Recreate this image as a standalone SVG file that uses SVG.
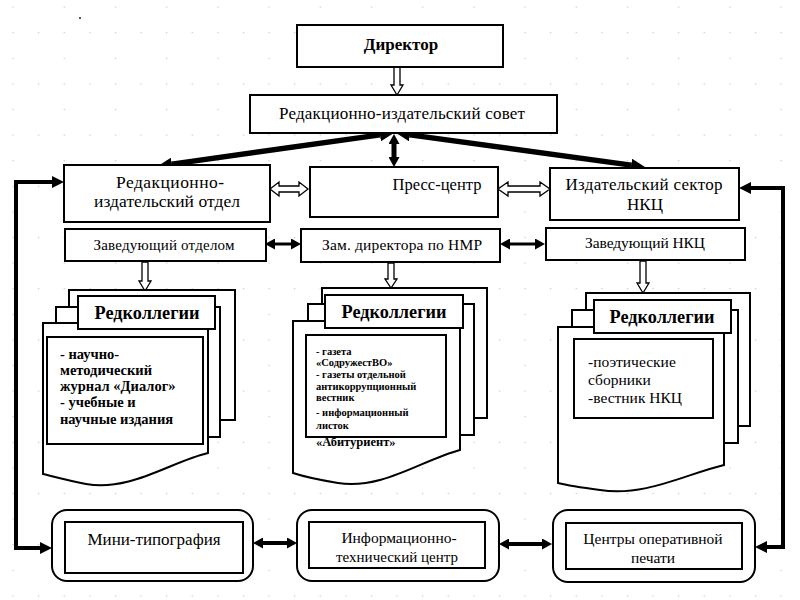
<svg xmlns="http://www.w3.org/2000/svg" width="800" height="600" viewBox="0 0 800 600">
<defs>
<style>
.b{fill:#fff;stroke:#000;stroke-width:2}
.t{font-family:'Liberation Serif','Times New Roman',serif;fill:#000}
.m{text-anchor:middle}
.h{fill:#fff;stroke:#000;stroke-width:1.3}
.ln{fill:none;stroke:#000}
</style>
<pattern id="grid" width="51.2" height="51.2" patternUnits="userSpaceOnUse" patternTransform="translate(12.5,6.5)">
<rect x="0" y="0" width="1.2" height="1.2" fill="#c4c4c4"/>
<rect x="0" y="25.6" width="1.2" height="1.2" fill="#c4c4c4"/>
<rect x="25.6" y="25.6" width="1.2" height="1.2" fill="#c4c4c4"/>
</pattern>
<marker id="big" markerUnits="userSpaceOnUse" markerWidth="14" markerHeight="13" refX="0" refY="6.5" orient="auto-start-reverse" viewBox="0 0 14 13">
<path d="M0,0 L14,6.5 L0,13 Z" fill="#000"/>
</marker>
<marker id="sm" markerUnits="userSpaceOnUse" markerWidth="10" markerHeight="11" refX="0" refY="5.5" orient="auto-start-reverse" viewBox="0 0 10 11">
<path d="M0,0 L10,5.5 L0,11 Z" fill="#000"/>
</marker>
<marker id="fb" markerUnits="userSpaceOnUse" markerWidth="12" markerHeight="12" refX="0" refY="6" orient="auto-start-reverse" viewBox="0 0 12 12">
<path d="M0,0 L12,6 L0,12 Z" fill="#000"/>
</marker>
</defs>
<rect width="800" height="600" fill="#fff"/>
<rect width="800" height="600" fill="url(#grid)"/>
<rect x="79" y="17" width="2" height="2" fill="#555"/>

<g id="connectors">
<polygon class="h" points="394,67 400,67 400,85 403,85 397,95 391,85 394,85"/>
<line class="ln" x1="380" y1="134.9" x2="171.9" y2="164.1" stroke-width="5.5" marker-start="url(#big)" marker-end="url(#big)"/>
<line class="ln" x1="410" y1="134.9" x2="631.1" y2="165.1" stroke-width="5.5" marker-start="url(#big)" marker-end="url(#big)"/>
<line class="ln" x1="394" y1="144" x2="394" y2="157" stroke-width="5" marker-start="url(#sm)" marker-end="url(#sm)"/>
<polygon class="h" points="270,189 279,182 279,186 299,186 299,182 308,189 299,196 299,192 279,192 279,196"/>
<polygon class="h" points="498,189 508,182 508,186 540,186 540,182 550,189 540,196 540,192 508,192 508,196"/>
<line class="ln" x1="275" y1="244" x2="291" y2="244" stroke-width="3" marker-start="url(#sm)" marker-end="url(#sm)"/>
<line class="ln" x1="510" y1="244" x2="535" y2="244" stroke-width="3" marker-start="url(#sm)" marker-end="url(#sm)"/>
<polygon class="h" points="142,262 148,262 148,281 151,281 145,291 139,281 142,281"/>
<polygon class="h" points="388,263 394,263 394,279 397,279 391,288 385,279 388,279"/>
<polygon class="h" points="640,261 646,261 646,283 649,283 643,293 637,283 640,283"/>
<path class="ln" d="M52,182 L16,182 L16,548 L40,548" stroke-width="4" marker-start="url(#fb)" marker-end="url(#fb)"/>
<path class="ln" d="M751,188 L783,188 L783,547 L767,547" stroke-width="4" marker-start="url(#fb)" marker-end="url(#fb)"/>
<line class="ln" x1="263" y1="543" x2="287" y2="543" stroke-width="4" marker-start="url(#sm)" marker-end="url(#sm)"/>
<line class="ln" x1="509" y1="544" x2="542" y2="544" stroke-width="4" marker-start="url(#sm)" marker-end="url(#sm)"/>
</g>

<g id="director">
<rect class="b" x="297" y="25" width="206" height="42"/>
<text class="t m" x="401" y="50" font-size="17" font-weight="bold">Директор</text>
</g>
<g id="sovet">
<rect class="b" x="250" y="95" width="307" height="38"/>
<text class="t m" x="402" y="119" font-size="17" textLength="246" lengthAdjust="spacing">Редакционно-издательский совет</text>
</g>
<g id="otdel">
<rect class="b" x="64" y="165" width="206" height="57"/>
<text class="t m" x="170" y="188" font-size="17.5" textLength="108" lengthAdjust="spacing">Редакционно-</text>
<text class="t m" x="167" y="207" font-size="17.5" textLength="146" lengthAdjust="spacing">издательский отдел</text>
</g>
<g id="press">
<rect class="b" x="310" y="167" width="188" height="50"/>
<text class="t m" x="437" y="190" font-size="16.5" textLength="89" lengthAdjust="spacing">Пресс-центр</text>
</g>
<g id="nkc-sector">
<rect class="b" x="550" y="168" width="189" height="52"/>
<text class="t m" x="644" y="190" font-size="17" textLength="157" lengthAdjust="spacing">Издательский сектор</text>
<text class="t m" x="645" y="210" font-size="17">НКЦ</text>
</g>
<g id="zav-otdel">
<rect class="b" x="65" y="229" width="201" height="32"/>
<text class="t m" x="164" y="250" font-size="15" textLength="141" lengthAdjust="spacing">Заведующий отделом</text>
</g>
<g id="zam-dir">
<rect class="b" x="301" y="229" width="199" height="33"/>
<text class="t m" x="402" y="250" font-size="15.5" textLength="160" lengthAdjust="spacing">Зам. директора по НМР</text>
</g>
<g id="zav-nkc">
<rect class="b" x="546" y="228" width="199" height="32"/>
<text class="t m" x="645" y="248" font-size="15.5" textLength="120" lengthAdjust="spacing">Заведующий НКЦ</text>
</g>

<g id="doc-left">
<rect class="b" x="69" y="290" width="166" height="130"/>
<rect class="b" x="56" y="307" width="164" height="130"/>
<path class="b" d="M43,323 H208 V453 C170,462 130,492 86,484 C70,481 55,477 43,474 Z"/>
<rect class="b" x="78" y="296" width="137" height="33"/>
<text class="t m" x="147" y="319" font-size="18" font-weight="bold" textLength="105" lengthAdjust="spacingAndGlyphs">Редколлегии</text>
<rect class="b" x="47" y="337" width="156" height="107"/>
<text class="t" x="60" y="359" font-size="14.5" font-weight="bold">- научно-</text>
<text class="t" x="60" y="375" font-size="14.5" font-weight="bold">методический</text>
<text class="t" x="60" y="391" font-size="14.5" font-weight="bold">журнал «Диалог»</text>
<text class="t" x="60" y="407" font-size="14.5" font-weight="bold">- учебные и</text>
<text class="t" x="60" y="424" font-size="14.5" font-weight="bold">научные издания</text>
</g>

<g id="doc-middle">
<rect class="b" x="322" y="288" width="165" height="130"/>
<rect class="b" x="308" y="304" width="166" height="131"/>
<path class="b" d="M293,321 H460 V450 C422,460 382,490 338,483 C320,480 305,477 293,473 Z"/>
<rect class="b" x="325" y="295" width="138" height="33"/>
<text class="t m" x="394" y="318" font-size="18" font-weight="bold" textLength="105" lengthAdjust="spacingAndGlyphs">Редколлегии</text>
<rect class="b" x="306" y="335" width="140" height="102"/>
<text class="t" x="316" y="355" font-size="10.5" font-weight="bold">- газета</text>
<text class="t" x="316" y="366" font-size="10.5" font-weight="bold">«СодружестВО»</text>
<text class="t" x="316" y="378" font-size="10.5" font-weight="bold">- газеты отдельной</text>
<text class="t" x="316" y="390" font-size="10.5" font-weight="bold">антикоррупционный</text>
<text class="t" x="316" y="401" font-size="10.5" font-weight="bold">вестник</text>
<text class="t" x="316" y="416" font-size="10.5" font-weight="bold">- информационный</text>
<text class="t" x="316" y="429" font-size="10.5" font-weight="bold">листок</text>
<text class="t" x="316" y="446" font-size="12.5" font-weight="bold">«Абитуриент»</text>
</g>

<g id="doc-right">
<rect class="b" x="586" y="293" width="164" height="133"/>
<rect class="b" x="572" y="310" width="166" height="133"/>
<path class="b" d="M558,327 H724 V465 C686,474 645,497 600,490 C585,488 570,486 558,483 Z"/>
<rect class="b" x="594" y="300" width="137" height="33"/>
<text class="t m" x="662" y="323" font-size="18" font-weight="bold" textLength="105" lengthAdjust="spacingAndGlyphs">Редколлегии</text>
<rect class="b" x="574" y="339" width="139" height="79"/>
<text class="t" x="588" y="367" font-size="15.5">-поэтические</text>
<text class="t" x="588" y="385" font-size="15.5">сборники</text>
<text class="t" x="588" y="403" font-size="15.5">-вестник НКЦ</text>
</g>

<g id="mini">
<rect class="b" x="52" y="510" width="201" height="71" rx="15"/>
<rect class="b" x="65" y="522" width="178" height="51"/>
<text class="t m" x="154" y="545" font-size="17">Мини-типография</text>
</g>
<g id="itc">
<rect class="b" x="297" y="510" width="202" height="71" rx="15"/>
<rect class="b" x="309" y="522" width="176" height="46"/>
<text class="t m" x="399" y="543" font-size="15.5">Информационно-</text>
<text class="t m" x="397" y="562" font-size="15">технический центр</text>
</g>
<g id="centers">
<rect class="b" x="553" y="510" width="202" height="72" rx="15"/>
<rect class="b" x="566" y="523" width="176" height="46"/>
<text class="t m" x="653" y="544" font-size="15.5">Центры оперативной</text>
<text class="t m" x="653" y="563" font-size="15.5">печати</text>
</g>
</svg>
